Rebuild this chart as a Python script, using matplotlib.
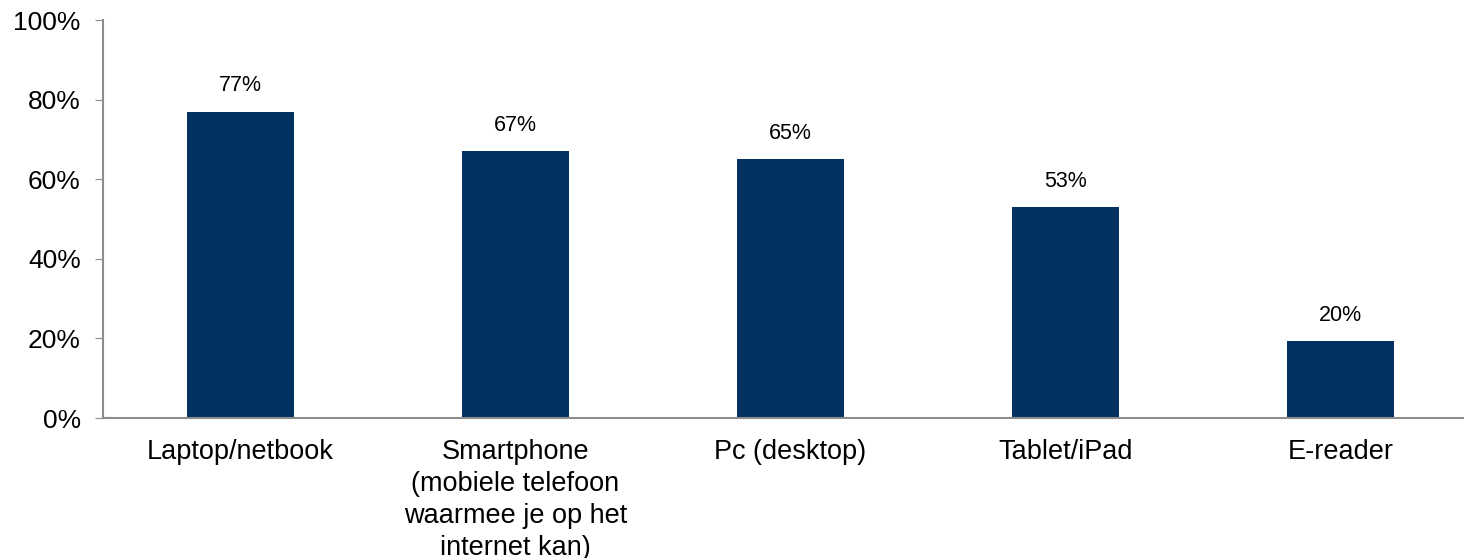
import matplotlib.pyplot as plt
import matplotlib.ticker as mtick

plt.rcParams['font.family'] = ['Liberation Sans', 'DejaVu Sans']

categories = ['Laptop/netbook',
              'Smartphone\n(mobiele telefoon\nwaarmee je op het\ninternet kan)',
              'Pc (desktop)', 'Tablet/iPad', 'E-reader']
values = [77, 67, 65, 53, 19.4]
labels = ['77%', '67%', '65%', '53%', '20%']

fig = plt.figure(figsize=(14.64, 5.58), dpi=100)
ax = fig.add_axes([103 / 1464, 140 / 558, 1375 / 1464, 398 / 558])

x = range(len(categories))
bars = ax.bar(x, values, width=0.39, color='#033161')
for b, lab in zip(bars, labels):
    ax.text(b.get_x() + b.get_width() / 2, b.get_height() + 3.8, lab,
            ha='center', va='bottom', fontsize=15.5)

ax.set_xlim(-0.5, 4.5)
ax.set_ylim(0, 100)
ax.set_yticks([0, 20, 40, 60, 80, 100])
ax.yaxis.set_major_formatter(mtick.FormatStrFormatter('%d%%'))
ax.set_xticks(list(x))
ax.set_xticklabels(categories, fontsize=19.5, linespacing=1.3)
ax.tick_params(axis='y', labelsize=19, length=6, color='#8c8c8c', pad=10)
ax.tick_params(axis='x', length=0, pad=15)

for s in ['top', 'right']:
    ax.spines[s].set_visible(False)
for s in ['left', 'bottom']:
    ax.spines[s].set_color('#8c8c8c')
    ax.spines[s].set_linewidth(1.5)

plt.savefig('out.png', dpi=100)
